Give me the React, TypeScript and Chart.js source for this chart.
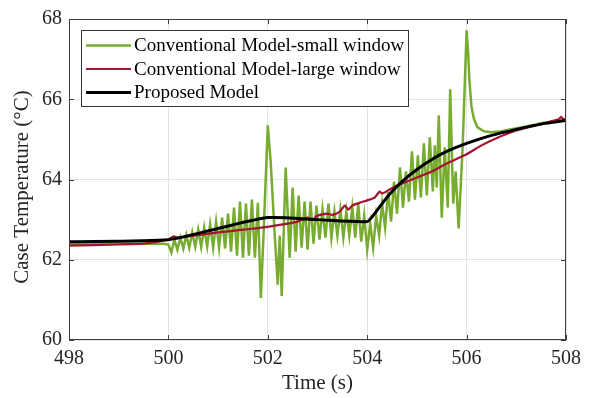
import { useEffect, useRef } from "react";
import { Chart, registerables } from "chart.js";

Chart.register(...registerables);

const xTicks = [498, 500, 502, 504, 506, 508];
const yTicks = [60, 62, 64, 66, 68];
const seriesNames = [
  "Conventional Model-small window",
  "Conventional Model-large window",
  "Proposed Model",
];
const xTitle = "Time (s)";
const yTitle = "Case Temperature (°C)";

// Conventional Model - small window (green)
const smallTime = [
  498, 499, 499.9, 500.0, 500.06, 500.12, 500.18, 500.24, 500.3, 500.36, 500.42, 500.48,
  500.54, 500.6, 500.66, 500.72, 500.78, 500.84, 500.9, 500.96, 501.02, 501.08, 501.14,
  501.2, 501.26, 501.32, 501.38, 501.44, 501.5, 501.56, 501.62, 501.68, 501.74, 501.8,
  501.86, 501.92, 502.0, 502.06, 502.14, 502.2, 502.24, 502.28, 502.36, 502.44, 502.5,
  502.56, 502.62, 502.68, 502.74, 502.8, 502.86, 502.92, 502.98, 503.04, 503.1, 503.16,
  503.22, 503.28, 503.34, 503.4, 503.46, 503.52, 503.58, 503.64, 503.7, 503.76, 503.82,
  503.88, 503.94, 504.0, 504.06, 504.12, 504.18, 504.24, 504.3, 504.36, 504.42, 504.48,
  504.54, 504.6, 504.66, 504.72, 504.78, 504.84, 504.9, 504.96, 505.02, 505.08, 505.14,
  505.2, 505.26, 505.32, 505.36, 505.4, 505.44, 505.5, 505.56, 505.62, 505.67, 505.73,
  505.78, 505.84, 505.92, 506.0, 506.03, 506.06, 506.1, 506.15, 506.22, 506.35, 506.5,
  506.7, 506.9, 507.2, 507.5, 507.8, 508,
];
const smallTemp = [
  62.4, 62.4, 62.4, 62.38, 62.18, 62.5, 62.25, 62.55, 62.28, 62.62, 62.3, 62.68,
  62.32, 62.75, 62.32, 62.8, 62.33, 62.88, 62.3, 62.95, 62.3, 63.05, 62.28,
  63.15, 62.2, 63.3, 62.1, 63.45, 62.05, 63.4, 62.1, 63.5, 62.05, 63.42,
  61.05, 62.8, 65.35, 64.4, 62.6, 61.38, 62.6, 61.1, 64.3, 62.05, 63.8,
  62.2, 63.6, 62.3, 63.45, 62.25, 63.45, 62.4, 63.35, 62.5, 63.25, 62.55,
  63.4, 62.55, 63.2, 62.6, 63.25, 62.55, 63.2, 62.6, 63.3, 62.55, 63.4,
  62.45, 63.1, 62.25, 62.9, 62.3, 63.1, 62.6, 63.4, 62.8, 63.7, 62.95,
  63.95, 63.15, 64.3, 63.3, 64.2, 63.45, 64.7, 63.5, 64.6, 63.55, 64.9,
  63.6, 65.05, 63.7, 64.85, 63.8, 65.6, 63.05, 64.8, 63.3, 66.25, 63.4,
  64.2, 62.78, 64.8, 67.72, 67.2, 66.4, 65.8, 65.5, 65.3, 65.2, 65.18,
  65.2, 65.25, 65.32, 65.4, 65.45, 65.5,
];

// Conventional Model - large window (red)
const largeTime = [
  498, 499, 499.5, 499.8, 499.9, 500.0, 500.1, 500.2, 500.5, 501.0, 501.5, 502.0, 502.3,
  502.6, 502.8, 502.9, 503.0, 503.2, 503.3, 503.45, 503.55, 503.62, 503.7, 503.85, 504.0,
  504.15, 504.25, 504.3, 504.45, 504.6, 505.0, 505.3, 505.6, 506.0, 506.3, 506.6, 507.0,
  507.4, 507.7, 507.85, 507.9, 507.95, 508,
];
const largeTemp = [
  62.35, 62.38, 62.4, 62.45, 62.48, 62.5, 62.58, 62.55, 62.6, 62.68, 62.75, 62.82, 62.88,
  62.95, 63.05, 63.0, 63.1, 63.15, 63.12, 63.2, 63.35, 63.25, 63.35, 63.42, 63.48,
  63.55, 63.7, 63.65, 63.75, 63.85, 64.05, 64.2, 64.4, 64.63, 64.85, 65.03, 65.22,
  65.35, 65.45, 65.5, 65.56, 65.5, 65.5,
];

// Proposed Model (black)
const propTime = [
  498, 500, 501, 502, 503, 504, 504.15, 504.3, 504.5, 504.7, 505.0, 505.3, 505.6, 506.0,
  506.5, 507.0, 507.5, 508,
];
const propTemp = [
  62.45, 62.5, 62.78, 63.05, 63.0, 62.95, 63.15, 63.4, 63.7, 63.95, 64.25, 64.5, 64.7, 64.9,
  65.1, 65.25, 65.38, 65.47,
];

const colors = ["#77AC30", "#A2142F", "#000000"];
const widths = [2.5, 2.2, 3];
const FONT = "'Liberation Serif', 'Times New Roman', serif";

const pts = (xs: number[], ys: number[]) => xs.map((x, i) => ({ x, y: ys[i] }));

const decorPlugin = {
  id: "decor",
  afterDatasetsDraw(chart: any) {
    const { ctx, chartArea: a, scales } = chart;
    const xs = scales.x;
    const ys = scales.y;
    ctx.save();
    // inward ticks
    ctx.strokeStyle = "#404040";
    ctx.lineWidth = 1;
    ctx.beginPath();
    xTicks.forEach((v) => {
      const px = Math.round(xs.getPixelForValue(v)) + 0.5;
      ctx.moveTo(px, a.bottom);
      ctx.lineTo(px, a.bottom - 5);
      ctx.moveTo(px, a.top);
      ctx.lineTo(px, a.top + 5);
    });
    yTicks.forEach((v) => {
      const py = Math.round(ys.getPixelForValue(v)) + 0.5;
      ctx.moveTo(a.left, py);
      ctx.lineTo(a.left + 5, py);
      ctx.moveTo(a.right, py);
      ctx.lineTo(a.right - 5, py);
    });
    ctx.stroke();
    // frame
    ctx.strokeRect(Math.round(a.left) + 0.5, Math.round(a.top) + 0.5, Math.round(a.right - a.left) - 1, Math.round(a.bottom - a.top) - 1);

    // legend
    const lx = a.left + 12;
    const ly = a.top + 11;
    const lw = 327;
    const lh = 76;
    ctx.fillStyle = "#ffffff";
    ctx.fillRect(lx, ly, lw, lh);
    ctx.strokeStyle = "#333333";
    ctx.lineWidth = 1;
    ctx.strokeRect(Math.round(lx) + 0.5, Math.round(ly) + 0.5, lw, lh);
    ctx.font = `19px ${FONT}`;
    ctx.textBaseline = "middle";
    ctx.textAlign = "left";
    seriesNames.forEach((name, i) => {
      const cy = ly + 15.5 + i * 23.5;
      ctx.strokeStyle = colors[i];
      ctx.lineWidth = widths[i];
      ctx.beginPath();
      ctx.moveTo(lx + 5, cy);
      ctx.lineTo(lx + 50, cy);
      ctx.stroke();
      ctx.fillStyle = "#000000";
      ctx.fillText(name, lx + 53, cy + 1);
    });

    // y title
    ctx.save();
    ctx.translate(22, 187);
    ctx.rotate(-Math.PI / 2);
    ctx.font = `21px ${FONT}`;
    ctx.fillStyle = "#262626";
    ctx.textAlign = "center";
    ctx.textBaseline = "middle";
    ctx.fillText(yTitle, 0, 0);
    ctx.restore();

    ctx.restore();
  },
};

export default function App() {
  const ref = useRef<HTMLCanvasElement | null>(null);

  useEffect(() => {
    document.body.style.margin = "0";
    if (!ref.current) return;
    const chart = new Chart(ref.current, {
      type: "line",
      data: {
        datasets: [
          {
            label: seriesNames[2],
            data: pts(propTime, propTemp),
            borderColor: colors[2],
            borderWidth: widths[2],
            pointRadius: 0,
            tension: 0.2,
          },
          {
            label: seriesNames[1],
            data: pts(largeTime, largeTemp),
            borderColor: colors[1],
            borderWidth: widths[1],
            pointRadius: 0,
            tension: 0.2,
          },
          {
            label: seriesNames[0],
            data: pts(smallTime, smallTemp),
            borderColor: colors[0],
            borderWidth: widths[0],
            pointRadius: 0,
            tension: 0,
          },
        ],
      },
      options: {
        animation: false,
        responsive: false,
        maintainAspectRatio: false,
        layout: { padding: { top: 17, right: 29, left: 0, bottom: 0 } },
        plugins: { legend: { display: false }, tooltip: { enabled: false } },
        scales: {
          x: {
            type: "linear",
            min: 498,
            max: 508,
            afterBuildTicks: (s: any) => {
              s.ticks = xTicks.map((v) => ({ value: v }));
            },
            afterFit: (s: any) => {
              s.height = 58;
            },
            grid: { color: "#e3e3e3", drawTicks: false, lineWidth: 1 },
            border: { display: false },
            ticks: { font: { family: FONT, size: 20 }, color: "#262626", padding: 7, maxRotation: 0 },
            title: {
              display: true,
              text: xTitle,
              font: { family: FONT, size: 21 },
              color: "#262626",
              padding: { top: 0, bottom: 2 },
            },
          },
          y: {
            type: "linear",
            min: 60,
            max: 68,
            afterBuildTicks: (s: any) => {
              s.ticks = yTicks.map((v) => ({ value: v }));
            },
            afterFit: (s: any) => {
              s.width = 69;
            },
            grid: { color: "#e3e3e3", drawTicks: false, lineWidth: 1 },
            border: { display: false },
            ticks: { font: { family: FONT, size: 20 }, color: "#262626", padding: 7 },
          },
        },
      },
      plugins: [decorPlugin],
    });
    return () => chart.destroy();
  }, []);

  return (
    <div style={{ width: 595, height: 398, background: "#fff" }}>
      <canvas ref={ref} width={595} height={398} style={{ display: "block" }} />
    </div>
  );
}
